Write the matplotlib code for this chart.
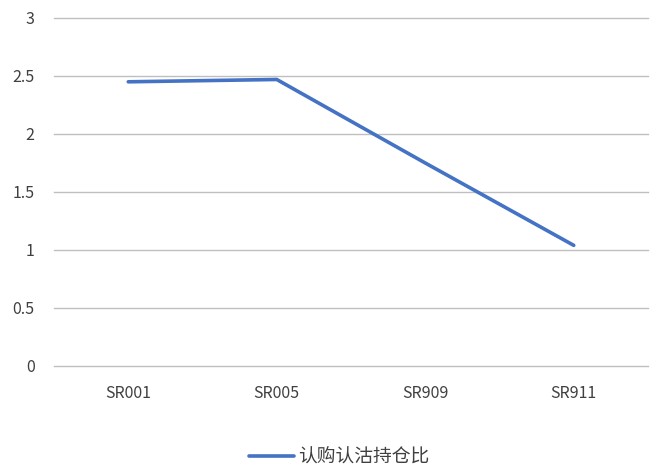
import matplotlib
matplotlib.use("Agg")
import matplotlib.pyplot as plt

plt.rcParams['font.family'] = ['Noto Sans CJK SC', 'DejaVu Sans']

categories = ["SR001", "SR005", "SR909", "SR911"]
values = [2.45, 2.47, 1.75, 1.04]
series_name = "认购认沽持仓比"
yticks = [0, 0.5, 1, 1.5, 2, 2.5, 3]
ytick_labels = ["0", "0.5", "1", "1.5", "2", "2.5", "3"]

fig = plt.figure(figsize=(6.62, 4.70), dpi=100)
ax = fig.add_axes([54/662, 1-366/470, (648-54)/662, (366-18)/470])

x = list(range(len(categories)))
ax.plot(x, values, color="#4472C4", linewidth=2.6, label=series_name, solid_capstyle="round")

ax.set_xlim(-0.5, len(categories) - 0.5)
ax.set_ylim(0, 3)
ax.set_yticks(yticks)
ax.set_yticklabels(ytick_labels)
ax.set_xticks(x)
ax.set_xticklabels(categories)
ax.yaxis.grid(True, color="#BFBFBF", linewidth=1)
for gl in ax.get_ygridlines():
    gl.set_clip_on(False)
ax.set_axisbelow(True)
for s in ax.spines.values():
    s.set_visible(False)
ax.tick_params(axis="both", length=0, labelsize=11.5, colors="#404040")
ax.tick_params(axis="y", pad=14)
ax.tick_params(axis="x", pad=14)

fig.legend(loc="center", bbox_to_anchor=(0.5 + 8/662, 1-457/470), frameon=False,
           fontsize=13.5, labelcolor="#404040", handlelength=2.4, handletextpad=0.2)

fig.savefig("out.png", dpi=100, facecolor="white")
